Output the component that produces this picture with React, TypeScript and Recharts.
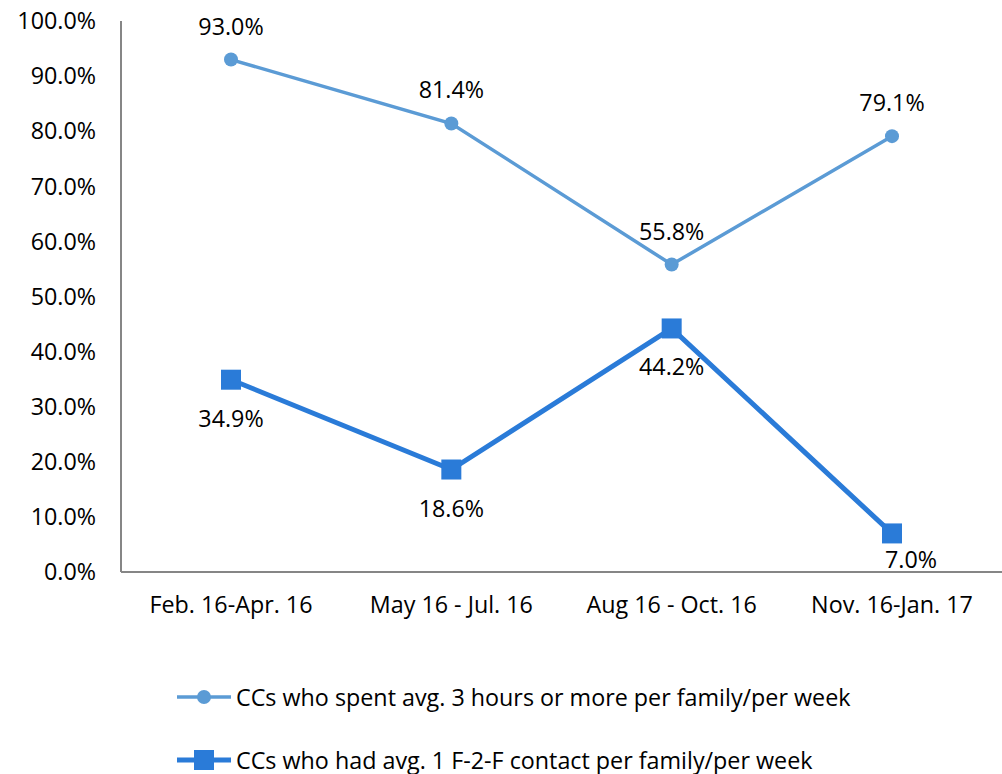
import React from "react";
import { LineChart, Line, XAxis, YAxis, Legend, LabelList } from "recharts";

const periods = ["Feb. 16-Apr. 16", "May 16 - Jul. 16", "Aug 16 - Oct. 16", "Nov. 16-Jan. 17"];
const spentHours = [93.0, 81.4, 55.8, 79.1];
const faceToFace = [34.9, 18.6, 44.2, 7.0];
const yTicks = [0, 10, 20, 30, 40, 50, 60, 70, 80, 90, 100];

const seriesNames = {
  spentHours: "CCs who spent avg. 3 hours or more per family/per week",
  faceToFace: "CCs who had avg. 1 F-2-F contact per family/per week",
};

const data = periods.map((p, i) => ({
  period: p,
  spentHours: spentHours[i],
  faceToFace: faceToFace[i],
}));

const FONT = "'Open Sans', sans-serif";
const FS = 23.3;
const LIGHT = "#5B9BD5";
const DARK = "#2A7BD8";

const pct = (v: number) => `${v.toFixed(1)}%`;

const TopLabel = (props: any) => {
  const { x, y, value } = props;
  return (
    <text x={x} y={y - 34} textAnchor="middle" dominantBaseline="central" fontSize={FS} fontFamily={FONT} fill="#000">
      {pct(value)}
    </text>
  );
};

const BottomLabel = (props: any) => {
  const { x, y, value, index } = props;
  // last label was nudged in the original
  const last = index === periods.length - 1;
  return (
    <text
      x={x + (last ? 19 : 0)}
      y={y + (last ? 26 : 38)}
      textAnchor="middle"
      dominantBaseline="central"
      fontSize={FS}
      fontFamily={FONT}
      fill="#000"
    >
      {pct(value)}
    </text>
  );
};

const SquareDot = (props: any) => {
  const { cx, cy } = props;
  return <rect x={cx - 10} y={cy - 10} width={20} height={20} fill={DARK} />;
};

const rowStyle: React.CSSProperties = {
  position: "absolute",
  left: 177,
  transform: "translateY(-50%)",
  display: "flex",
  alignItems: "center",
  whiteSpace: "nowrap",
};

const renderLegend = () => (
  <div style={{ height: 110, fontFamily: FONT, fontSize: FS, color: "#000" }}>
    <div style={{ ...rowStyle, top: 33 }}>
      <svg width={56} height={20}>
        <line x1={0} y1={10} x2={54} y2={10} stroke={LIGHT} strokeWidth={3.5} />
        <circle cx={27} cy={10} r={7} fill={LIGHT} />
      </svg>
      <span style={{ marginLeft: 3 }}>{seriesNames.spentHours}</span>
    </div>
    <div style={{ ...rowStyle, top: 96 }}>
      <svg width={56} height={20}>
        <line x1={0} y1={10} x2={54} y2={10} stroke={DARK} strokeWidth={5} />
        <rect x={17} y={0} width={20} height={20} fill={DARK} />
      </svg>
      <span style={{ marginLeft: 3 }}>{seriesNames.faceToFace}</span>
    </div>
  </div>
);

export default function App() {
  return (
    <div style={{ position: "absolute", left: 0, top: 0, width: 1002, height: 774, background: "#fff" }}>
      <LineChart width={1002} height={774} data={data} margin={{ top: 21, right: 0, bottom: 0, left: 0 }}>
        <XAxis
          dataKey="period"
          height={92}
          padding={{ left: 110, right: 110 }}
          axisLine={{ stroke: "#868686", strokeWidth: 2 }}
          tickLine={false}
          tickSize={0}
          tickMargin={24}
          tick={{ fontSize: FS, fontFamily: FONT, fill: "#000" }}
          interval={0}
        />
        <YAxis
          width={121}
          domain={[0, 100]}
          ticks={yTicks}
          tickFormatter={pct}
          axisLine={{ stroke: "#868686", strokeWidth: 2 }}
          tickLine={false}
          tickSize={0}
          tickMargin={25}
          tick={{ fontSize: FS, fontFamily: FONT, fill: "#000" }}
          interval={0}
        />
        <Legend verticalAlign="bottom" content={renderLegend} wrapperStyle={{ left: 0, width: 1002 }} />
        <Line
          dataKey="spentHours"
          name={seriesNames.spentHours}
          stroke={LIGHT}
          strokeWidth={3.5}
          dot={{ r: 7, fill: LIGHT, stroke: LIGHT, strokeWidth: 0 }}
          isAnimationActive={false}
        >
          <LabelList dataKey="spentHours" content={TopLabel} />
        </Line>
        <Line
          dataKey="faceToFace"
          name={seriesNames.faceToFace}
          stroke={DARK}
          strokeWidth={5}
          dot={<SquareDot />}
          isAnimationActive={false}
        >
          <LabelList dataKey="faceToFace" content={BottomLabel} />
        </Line>
      </LineChart>
    </div>
  );
}
